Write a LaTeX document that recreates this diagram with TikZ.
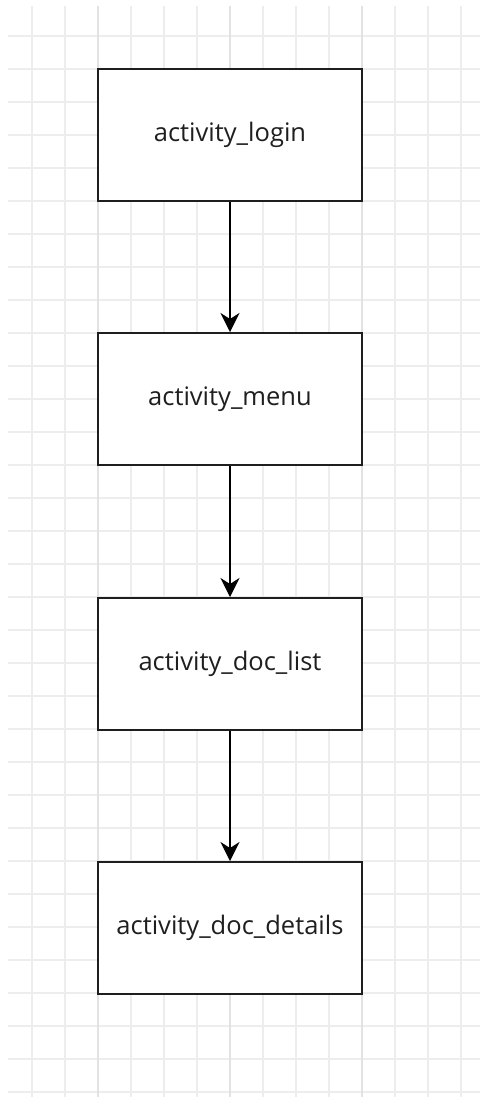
\documentclass[tikz,border=0pt]{standalone}
\usepackage{fontspec}
\setmainfont{Open Sans}
\usetikzlibrary{arrows.meta}
\definecolor{gridc}{HTML}{EDEDED}
\definecolor{gridm}{HTML}{E2E2E2}
\definecolor{edge}{HTML}{1E1E1E}
\tikzset{
  box/.style={draw=edge, line width=2bp, fill=white, minimum width=264bp, minimum height=132bp, inner sep=0pt,
    font=\fontsize{25.5bp}{30bp}\selectfont, text=black!88},
  flow/.style={draw=black, line width=2bp, -{Stealth[length=19bp,width=19bp,inset=6bp]}},
}
\begin{document}
\begin{tikzpicture}[x=1bp,y=-1bp]
\useasboundingbox (0,0) rectangle (480,1097);
\fill[white] (0,0) rectangle (480,1097);
% grid
\foreach \k in {0,...,13} {
  \draw[gridc, line width=1.2bp] ({32+33*\k},6) -- ({32+33*\k},1097);
}
\foreach \k in {0,...,32} {
  \draw[gridc, line width=1.2bp] (8,{36+33*\k}) -- (480,{36+33*\k});
}
\foreach \x in {98,230,362} {
  \draw[gridm, line width=1.2bp] (\x,6) -- (\x,1097);
}
% nodes
\node[box] (login) at (230,135) {activity\_login};
\node[box] (menu) at (230,399) {activity\_menu};
\node[box] (list) at (230,664) {activity\_doc\_list};
\node[box] (details) at (230,928) {activity\_doc\_details};
% connectors
\draw[flow] (login) -- (menu);
\draw[flow] (menu) -- (list);
\draw[flow] (list) -- (details);
\end{tikzpicture}
\end{document}
